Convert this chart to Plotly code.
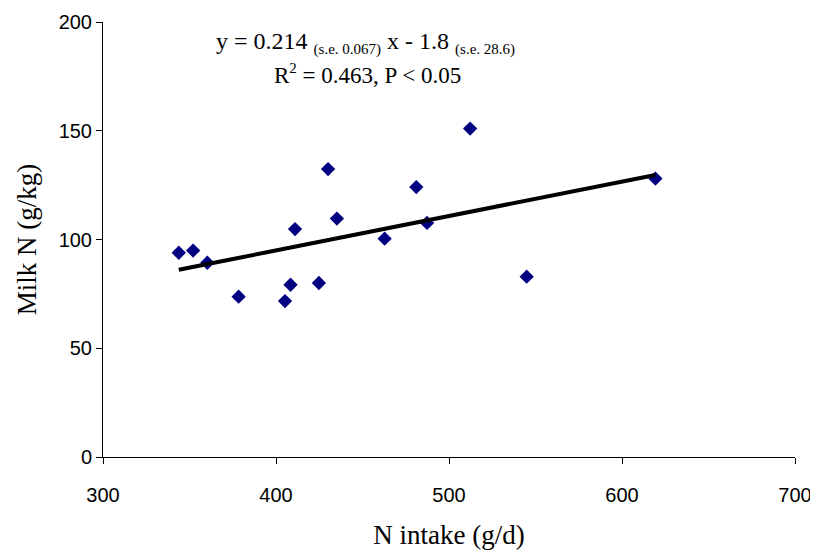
import numpy as np
import plotly.graph_objects as go

n_intake = [343.8, 352.1, 360.3, 378.4, 405.2, 408.4, 411.0, 424.8, 430.1, 435.2,
            462.8, 481.1, 487.3, 512.2, 544.9, 619.3]
milk_n = [93.9, 94.9, 89.3, 73.7, 71.7, 79.2, 104.8, 80.0, 132.4, 109.6,
          100.4, 124.1, 107.6, 151.0, 82.9, 128.0]
x_ticks = [300, 400, 500, 600, 700]
y_ticks = [0, 50, 100, 150, 200]

slope, intercept = np.polyfit(n_intake, milk_n, 1)
fit_x = [min(n_intake), max(n_intake)]
fit_y = [slope * v + intercept for v in fit_x]

fig = go.Figure()
fig.add_trace(go.Scatter(x=n_intake, y=milk_n, mode="markers",
                         marker=dict(symbol="diamond", size=11, color="#000080",
                                     line=dict(width=0)),
                         showlegend=False))
fig.add_trace(go.Scatter(x=fit_x, y=fit_y, mode="lines",
                         line=dict(color="black", width=4), showlegend=False))

sub = '<span style="font-size:15px">'
fig.add_annotation(
    x=0.379, y=1.0, xref="paper", yref="paper", xanchor="center", yanchor="top",
    yshift=-4,
    text=("y = 0.214 <sub>" + sub + "(s.e. 0.067)</span></sub> x - 1.8 <sub>" + sub +
          "(s.e. 28.6)</span></sub>"),
    showarrow=False, align="center",
    font=dict(family="Liberation Serif", size=24, color="black"))
fig.add_annotation(
    x=0.382, y=1.0, xref="paper", yref="paper", xanchor="center", yanchor="top",
    yshift=-36,
    text="R<sup>" + sub + "2</span></sup> = 0.463, P &lt; 0.05",
    showarrow=False, align="center",
    font=dict(family="Liberation Serif", size=23, color="black"))

fig.update_layout(
    width=810, height=549,
    margin=dict(l=95, r=23, t=14, b=100),
    paper_bgcolor="white", plot_bgcolor="white",
    font=dict(family="Liberation Sans", size=20, color="black"),
    xaxis=dict(range=[300, 700], tickvals=x_ticks, showgrid=False, zeroline=False,
               showline=True, linecolor="black", linewidth=1,
               ticks="outside", ticklen=6, tickcolor="black",
               ticklabelstandoff=14, automargin=False,
               title=dict(text="N intake (g/d)", standoff=20,
                          font=dict(family="Liberation Serif", size=27))),
    yaxis=dict(range=[0, 200], tickvals=y_ticks, showgrid=False, zeroline=False,
               showline=True, linecolor="black", linewidth=1,
               ticks="outside", ticklen=6, tickcolor="black",
               automargin=False,
               title=dict(text="Milk N (g/kg)", standoff=14,
                          font=dict(family="Liberation Serif", size=27))),
)

fig.write_html("out.html")
